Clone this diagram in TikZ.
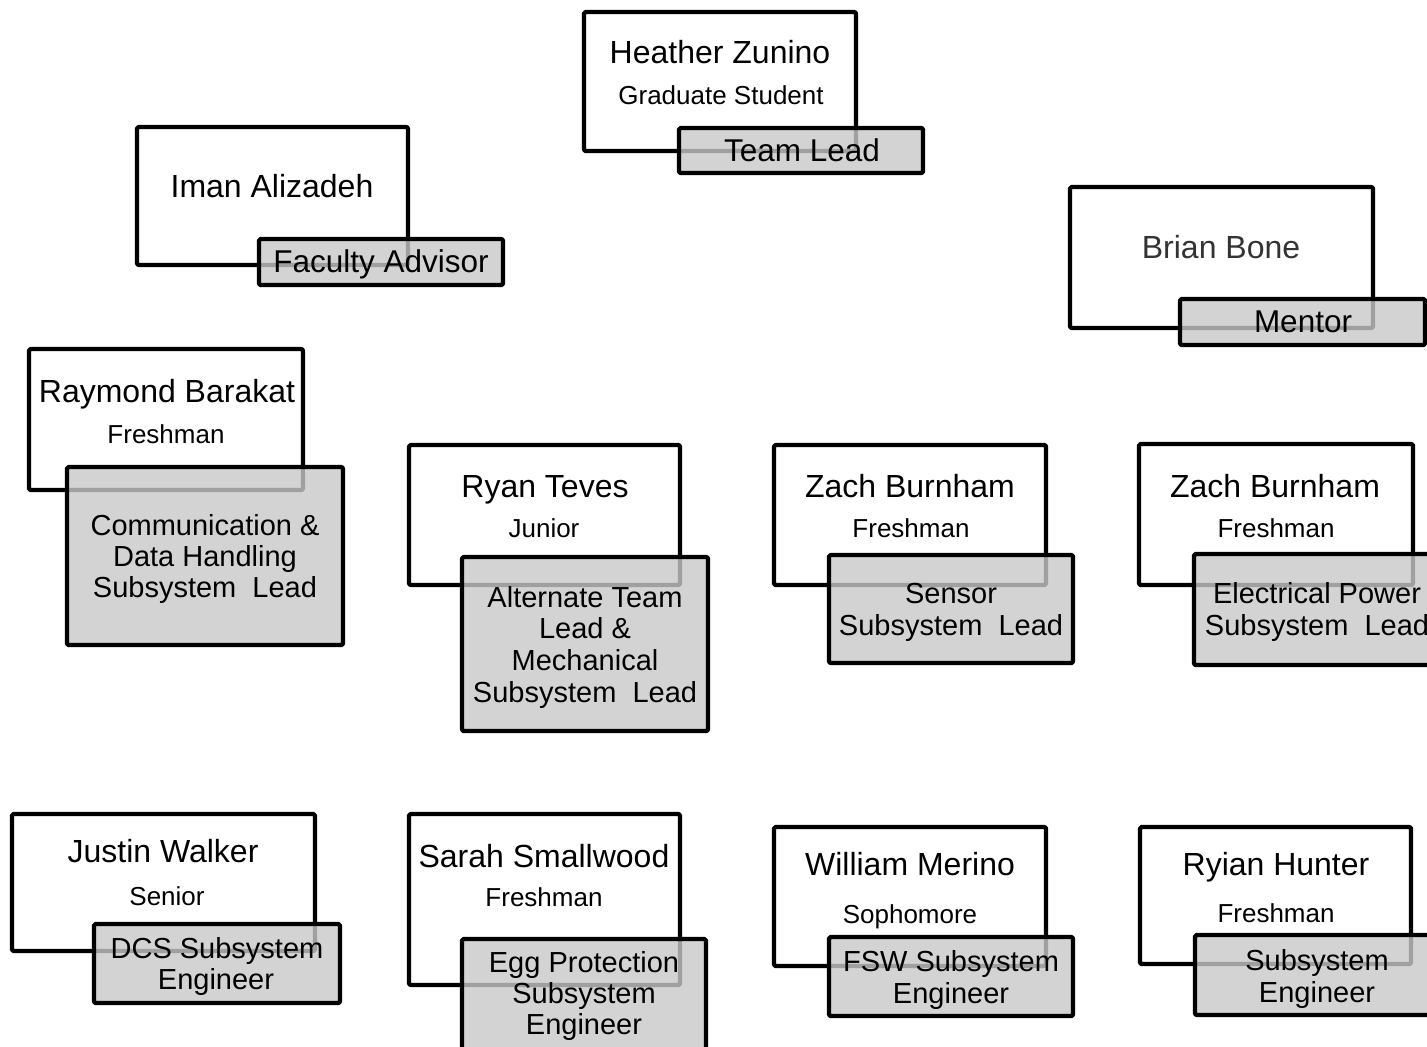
\documentclass[tikz,border=0pt]{standalone}
\usepackage{fontspec}
\setmainfont{Liberation Sans}
\definecolor{gfill}{RGB}{200,200,200}
\begin{document}
\begin{tikzpicture}[x=0.5pt,y=-0.5pt,
  wbox/.style={draw=black,line width=2.2pt,fill=white,line join=round,rounded corners=0.8pt},
  gbox/.style={draw=black,line width=2.2pt,fill=gfill,fill opacity=0.8,line join=round,rounded corners=0.8pt},
  nametxt/.style={anchor=base,inner sep=0pt,font=\fontsize{16}{18}\selectfont},
  yeartxt/.style={anchor=base,inner sep=0pt,font=\fontsize{13}{15}\selectfont},
  roletxt/.style={anchor=base,inner sep=0pt,font=\fontsize{15.75}{18}\selectfont},
  rolemtxt/.style={anchor=base,inner sep=0pt,font=\fontsize{14.5}{16}\selectfont}]
\useasboundingbox (0,0) rectangle (1427,1046);
\clip (0,0) rectangle (1427,1046);
% Heather Zunino
\draw[wbox] (584,12) rectangle (856,151);
\draw[gbox] (679,128) rectangle (923,173);
\node[nametxt] (hz) at (720,63) {Heather Zunino};
\node[yeartxt] (hzy) at (721,104) {Graduate Student};
\node[roletxt] (hzr) at (802,161) {Team Lead};
% Iman Alizadeh
\draw[wbox] (137,127) rectangle (408,265);
\draw[gbox] (259,239) rectangle (503,285);
\node[nametxt] (ia) at (272,197) {Iman Alizadeh};
\node[roletxt] (iar) at (381,272) {Faculty Advisor};
% Brian Bone
\draw[wbox] (1070,187) rectangle (1373,328);
\draw[gbox] (1180,299) rectangle (1425,345);
\node[nametxt,text=black!80] (bb) at (1221,258) {Brian Bone};
\node[roletxt] (bbr) at (1303,332) {Mentor};
% Raymond Barakat
\draw[wbox] (29,349) rectangle (303,490);
\draw[gbox] (67,467) rectangle (343,645);
\node[nametxt] (rb) at (167,402) {Raymond Barakat};
\node[yeartxt] (rby) at (166,443) {Freshman};
\node[rolemtxt] (rbr1) at (205,535) {Communication \&};
\node[rolemtxt] (rbr2) at (205,566) {Data Handling};
\node[rolemtxt] (rbr3) at (205,597) {Subsystem~~Lead};
% Ryan Teves
\draw[wbox] (409,445) rectangle (680,585);
\draw[gbox] (462,557) rectangle (708,731);
\node[nametxt] (rt) at (545,497) {Ryan Teves};
\node[yeartxt] (rty) at (544,537) {Junior};
\node[rolemtxt] (rtr1) at (585,607) {Alternate Team};
\node[rolemtxt] (rtr2) at (585,638) {Lead \&};
\node[rolemtxt] (rtr3) at (585,670) {Mechanical};
\node[rolemtxt] (rtr4) at (585,702) {Subsystem~~Lead};
% Zach Burnham (Sensor)
\draw[wbox] (774,445) rectangle (1046,585);
\draw[gbox] (829,555) rectangle (1073,663);
\node[nametxt] (zb1) at (910,497) {Zach Burnham};
\node[yeartxt] (zb1y) at (911,537) {Freshman};
\node[rolemtxt] (zb1r1) at (951,603) {Sensor};
\node[rolemtxt] (zb1r2) at (951,635) {Subsystem~~Lead};
% Zach Burnham (Electrical Power)
\draw[wbox] (1139,444) rectangle (1413,585);
\draw[gbox] (1194,554) rectangle (1440,665);
\node[nametxt] (zb2) at (1275,497) {Zach Burnham};
\node[yeartxt] (zb2y) at (1276,537) {Freshman};
\node[rolemtxt] (zb2r1) at (1317,603) {Electrical Power};
\node[rolemtxt] (zb2r2) at (1317,635) {Subsystem~~Lead};
% Justin Walker
\draw[wbox] (12,814) rectangle (315,951);
\draw[gbox] (94,924) rectangle (340,1003);
\node[nametxt] (jw) at (163,862) {Justin Walker};
\node[yeartxt] (jwy) at (167,905) {Senior};
\node[rolemtxt] (jwr1) at (217,958) {DCS Subsystem};
\node[rolemtxt] (jwr2) at (216,989) {Engineer};
% Sarah Smallwood
\draw[wbox] (409,814) rectangle (680,985);
\draw[gbox] (462,939) rectangle (706,1060);
\node[nametxt] (ss) at (544,867) {Sarah Smallwood};
\node[yeartxt] (ssy) at (544,906) {Freshman};
\node[rolemtxt] (ssr1) at (584,972) {Egg Protection};
\node[rolemtxt] (ssr2) at (584,1003) {Subsystem};
\node[rolemtxt] (ssr3) at (584,1034) {Engineer};
% William Merino
\draw[wbox] (774,827) rectangle (1046,966);
\draw[gbox] (829,937) rectangle (1073,1016);
\node[nametxt] (wm) at (910,875) {William Merino};
\node[yeartxt] (wmy) at (910,923) {Sophomore};
\node[rolemtxt] (wmr1) at (951,971) {FSW Subsystem};
\node[rolemtxt] (wmr2) at (951,1003) {Engineer};
% Ryian Hunter
\draw[wbox] (1140,827) rectangle (1411,964);
\draw[gbox] (1195,935) rectangle (1440,1015);
\node[nametxt] (rh) at (1276,875) {Ryian Hunter};
\node[yeartxt] (rhy) at (1276,922) {Freshman};
\node[rolemtxt] (rhr1) at (1317,970) {Subsystem};
\node[rolemtxt] (rhr2) at (1317,1002) {Engineer};
\end{tikzpicture}
\end{document}
